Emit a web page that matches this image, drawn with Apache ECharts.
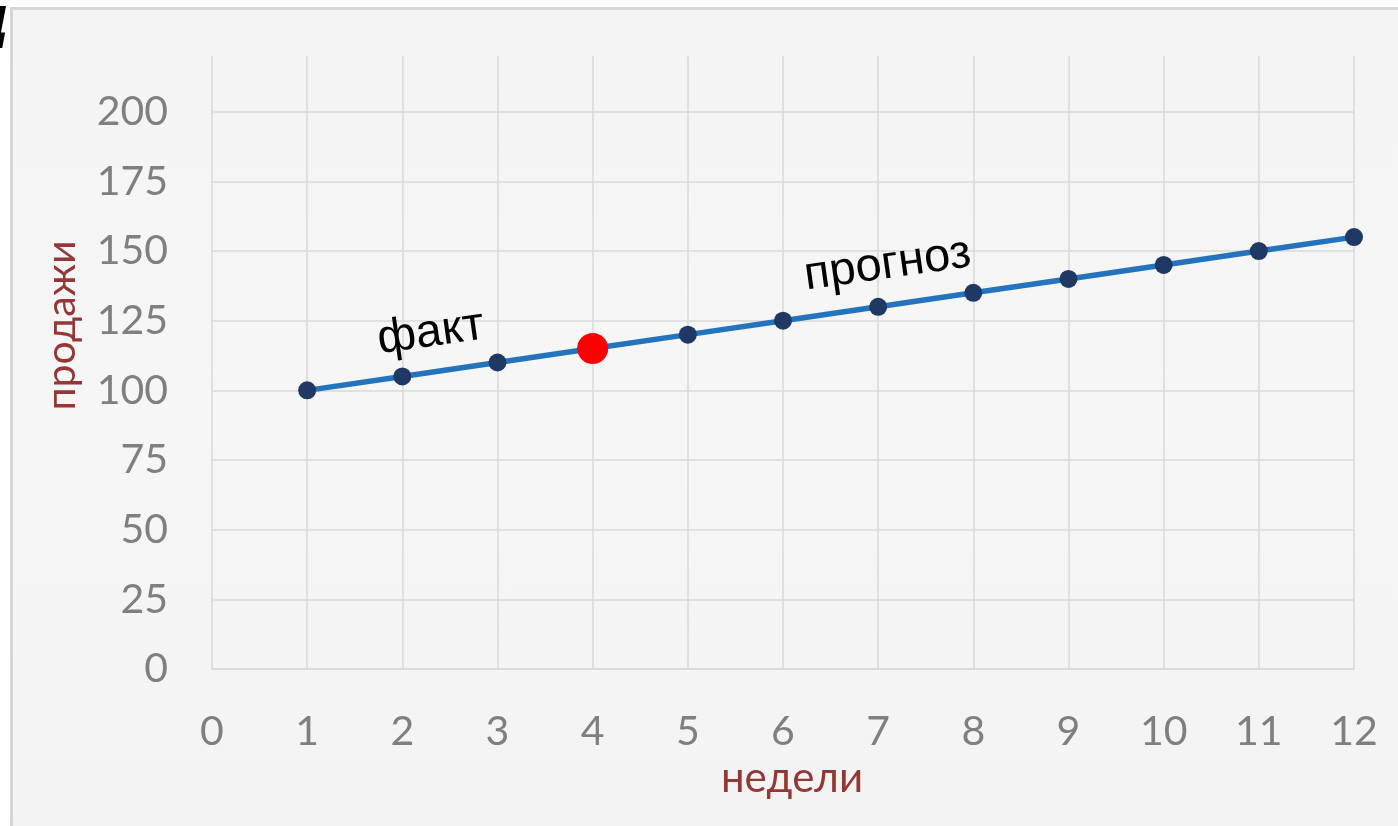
<!DOCTYPE html>
<html>
<head>
<meta charset="utf-8">
<script src="https://cdn.jsdelivr.net/npm/echarts@6/dist/echarts.min.js"></script>
<style>
  html, body { margin: 0; padding: 0; background: #ffffff; }
  #panel {
    position: absolute; left: 10px; top: 7px; right: 0; bottom: 0;
    border-left: 3px solid #d6d6d6; border-top: 3px solid #d6d6d6;
    background: linear-gradient(180deg, #f4f4f4 0%, #f6f6f6 50%, #f3f3f3 100%);
  }
  #chart { position: absolute; left: 0; top: 0; width: 1398px; height: 826px; }
</style>
</head>
<body>
<div id="panel"></div>
<div id="chart"></div>
<script>
// Weekly sales: actual weeks followed by the forecast trend
const weeks = [1, 2, 3, 4, 5, 6, 7, 8, 9, 10, 11, 12];
const sales = [100, 105, 110, 115, 120, 125, 130, 135, 140, 145, 150, 155];

// The current week, highlighted in red
const currentWeek = [4];
const currentSales = [115];

// Text notes placed along the trend line
const noteText = ['факт', 'прогноз'];
const noteX = [2.3, 7.1];
const noteY = [120.6, 145];

const xTicks = { min: 0, max: 12, interval: 1 };
const yTicks = { min: 0, max: 220, interval: 25 };

const chart = echarts.init(document.getElementById('chart'), null, { renderer: 'canvas' });

const tickFont = { color: '#7f7f7f', fontFamily: 'Lato', fontSize: 41 };
const nameFont = { color: '#953735', fontFamily: 'Lato', fontSize: 41 };
const gridLine = { show: true, lineStyle: { color: '#d9d9d9', width: 1.5 } };

chart.setOption({
  animation: false,
  backgroundColor: 'transparent',
  grid: { left: 212, right: 44, top: 56, bottom: 157, containLabel: false },
  xAxis: {
    type: 'value',
    min: xTicks.min, max: xTicks.max, interval: xTicks.interval,
    name: 'недели',
    nameLocation: 'middle',
    nameGap: 88,
    nameTextStyle: Object.assign({ padding: [0, 0, 0, 18] }, nameFont, { fontSize: 42 }),
    axisLine: { show: true, lineStyle: { color: '#d9d9d9', width: 1.5 } },
    axisTick: { show: false },
    axisLabel: Object.assign({ margin: 42 }, tickFont),
    splitLine: gridLine
  },
  yAxis: {
    type: 'value',
    min: yTicks.min, max: yTicks.max, interval: yTicks.interval,
    name: 'продажи',
    nameLocation: 'middle',
    nameGap: 130,
    nameRotate: 90,
    nameTextStyle: Object.assign({ padding: [0, 0, 0, 74] }, nameFont),
    axisLine: { show: false },
    axisTick: { show: false },
    axisLabel: Object.assign({ margin: 44, showMaxLabel: false }, tickFont),
    splitLine: Object.assign({ showMaxLine: false }, gridLine)
  },
  graphic: [
    {
      type: 'text', left: -26, top: 2, silent: true,
      style: { text: 'Д', fill: '#000000', font: 'bold italic 46px "Liberation Sans"' }
    }
  ],
  series: [
    {
      name: 'продажи',
      type: 'line',
      data: weeks.map((w, i) => [w, sales[i]]),
      symbol: 'circle',
      symbolSize: 18,
      itemStyle: { color: '#1f3864' },
      lineStyle: { color: '#2474bd', width: 5.5 },
      z: 3
    },
    {
      name: 'текущая неделя',
      type: 'scatter',
      data: currentWeek.map((w, i) => [w, currentSales[i]]),
      symbol: 'circle',
      symbolSize: 31,
      itemStyle: { color: '#ff0000', opacity: 1 },
      z: 5
    },
    {
      name: 'подписи',
      type: 'scatter',
      data: noteText.map((t, i) => ({ name: t, value: [noteX[i], noteY[i]] })),
      symbolSize: 0,
      silent: true,
      itemStyle: { opacity: 1 },
      label: {
        show: true,
        position: 'inside',
        formatter: p => p.name,
        rotate: 8,
        color: '#000000',
        opacity: 1,
        textBorderWidth: 0,
        fontFamily: 'Liberation Sans',
        fontSize: 47
      },
      z: 6
    }
  ]
});
</script>
</body>
</html>
